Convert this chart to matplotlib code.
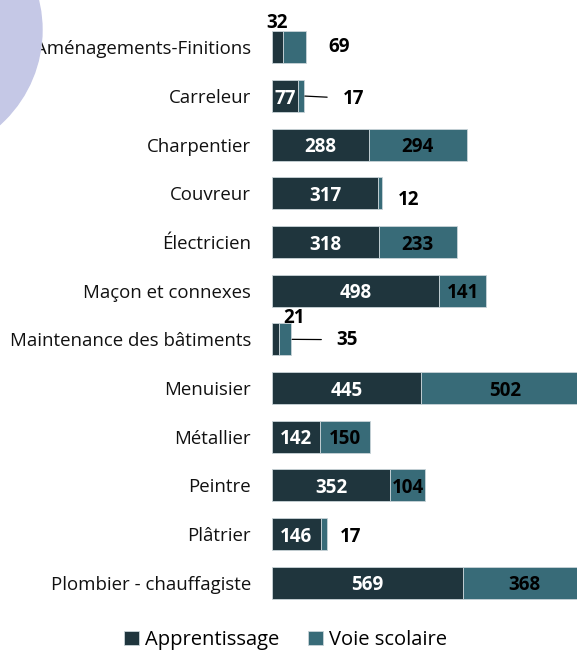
import matplotlib.pyplot as plt
from matplotlib.patches import Ellipse

categories = ["Aménagements-Finitions", "Carreleur", "Charpentier", "Couvreur",
              "Électricien", "Maçon et connexes", "Maintenance des bâtiments",
              "Menuisier", "Métallier", "Peintre", "Plâtrier",
              "Plombier - chauffagiste"]
apprentissage = [32, 77, 288, 317, 318, 498, 21, 445, 142, 352, 146, 569]
voie_scolaire = [69, 17, 294, 12, 233, 141, 35, 502, 150, 104, 17, 368]

c_app = "#1f353d"
c_voie = "#386b78"

# labels drawn outside the bars: (serie, index) -> offset in points, leader line
outside = {
    ("app", 0): ((0, 19), False),
    ("voie", 0): ((24, 2), False),
    ("voie", 1): ((28, 0), True),
    ("voie", 3): ((19, -3), False),
    ("app", 6): ((13, 17), False),
    ("voie", 6): ((33, 1.5), True),
    ("voie", 10): ((17, 0), False),
}

fig = plt.figure(figsize=(5.77, 6.5), dpi=100)
fig.patches.append(Ellipse((-85 / 577, 1 - 30 / 650), 2 * 127 / 577, 2 * 127 / 650,
                           transform=fig.transFigure, color="#c5c8e6", zorder=0))
ax = fig.add_axes([272 / 577, 43 / 650, 1 - 272 / 577, 584 / 650])
ax.patch.set_alpha(0)

y = list(range(len(categories)))
b1 = ax.barh(y, apprentissage, height=0.66, color=c_app, edgecolor="#c9d4d8", lw=0.6)
b2 = ax.barh(y, voie_scolaire, left=apprentissage, height=0.66, color=c_voie,
             edgecolor="#c9d4d8", lw=0.6)
ax.set_xlim(0, 910)
ax.set_ylim(len(categories) - 0.5, -0.5)

vfont = dict(family="Open Sans", fontsize=13.5, fontweight="bold")
for i in y:
    a, v = apprentissage[i], voie_scolaire[i]
    for key, val, left, col in (("app", a, 0, "white"), ("voie", v, a, "black")):
        if (key, i) in outside:
            off, line = outside[(key, i)]
            if key == "app" and off[0] < 20:
                xy = (left + val / 2, i)
            else:
                xy = (left + val, i)
            if line:
                ax.annotate(str(val), xy=xy, xytext=off, textcoords="offset points",
                            ha="left", va="center_baseline", color="black",
                            arrowprops=dict(arrowstyle="-", color="black", lw=0.9,
                                            shrinkA=9, shrinkB=1), **vfont)
            else:
                ax.annotate(str(val), xy=xy, xytext=off, textcoords="offset points",
                            ha="center", va="center_baseline", color="black", **vfont)
        else:
            ax.text(left + val / 2, i, str(val), ha="center", va="center_baseline",
                    color=col, **vfont)

ax.set_yticks(y)
ax.set_yticklabels(categories, family="Open Sans", fontsize=13.4, color="#111111")
ax.tick_params(axis="y", length=0, pad=15)
ax.set_xticks([])
for s in ax.spines.values():
    s.set_visible(False)

fig.legend([b1, b2], ["Apprentissage", "Voie scolaire"], loc="center",
           bbox_to_anchor=(0.495, 10 / 650), ncol=2, frameon=False,
           prop=dict(family="Open Sans", size=14.5), handlelength=0.75, handleheight=0.75,
           handletextpad=0.3, columnspacing=1.4)

fig.savefig("out.png", dpi=100)
